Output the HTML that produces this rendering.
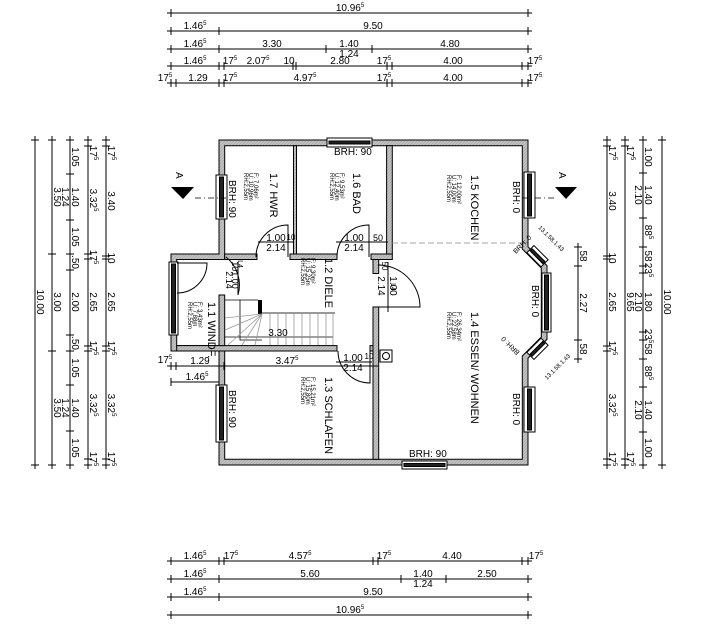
<!DOCTYPE html>
<html><head><meta charset="utf-8"><style>
html,body{margin:0;padding:0;background:#fff;}
svg{display:block;font-family:"Liberation Sans Narrow","Liberation Sans",sans-serif;}
.d line{stroke:#000;stroke-width:1;}
.t{font-size:10px;fill:#000;}
.s{font-size:6px;fill:#000;}
.r{font-size:10px;fill:#000;}
</style></head><body>
<svg width="719" height="627" viewBox="0 0 719 627" xmlns="http://www.w3.org/2000/svg">
<defs>
<pattern id="h" width="3" height="3" patternUnits="userSpaceOnUse"><rect width="3" height="3" fill="#c4c4c4"/><path d="M0 3L3 0" stroke="#9a9a9a" stroke-width="0.6"/></pattern>
</defs>
<rect width="719" height="627" fill="#fff"/>

<!-- ===== TOP DIMENSIONS ===== -->
<g class="d">
<line x1="167" y1="13" x2="532" y2="13"/>
<line x1="171" y1="9" x2="171" y2="17"/><line x1="528" y1="9" x2="528" y2="17"/>
<line x1="167" y1="31" x2="532" y2="31"/>
<line x1="171" y1="27" x2="171" y2="35"/><line x1="219" y1="27" x2="219" y2="35"/><line x1="528" y1="27" x2="528" y2="35"/>
<line x1="167" y1="49" x2="532" y2="49"/>
<line x1="171" y1="45" x2="171" y2="53"/><line x1="219" y1="45" x2="219" y2="53"/><line x1="326" y1="45" x2="326" y2="53"/><line x1="372" y1="45" x2="372" y2="53"/><line x1="528" y1="45" x2="528" y2="53"/>
<line x1="167" y1="66" x2="532" y2="66"/>
<line x1="171" y1="62" x2="171" y2="70"/><line x1="219" y1="62" x2="219" y2="70"/><line x1="224" y1="62" x2="224" y2="70"/><line x1="293" y1="62" x2="293" y2="70"/><line x1="296" y1="62" x2="296" y2="70"/><line x1="387" y1="62" x2="387" y2="70"/><line x1="392" y1="62" x2="392" y2="70"/><line x1="522" y1="62" x2="522" y2="70"/><line x1="528" y1="62" x2="528" y2="70"/>
<line x1="167" y1="83" x2="532" y2="83"/>
<line x1="171" y1="79" x2="171" y2="87"/><line x1="176" y1="79" x2="176" y2="87"/><line x1="219" y1="79" x2="219" y2="87"/><line x1="224" y1="79" x2="224" y2="87"/><line x1="387" y1="79" x2="387" y2="87"/><line x1="392" y1="79" x2="392" y2="87"/><line x1="522" y1="79" x2="522" y2="87"/><line x1="528" y1="79" x2="528" y2="87"/>
</g>
<g class="t" text-anchor="middle">
<text x="350" y="11">10.96<tspan font-size="6" dy="-4">5</tspan></text>
<text x="195" y="29">1.46<tspan font-size="6" dy="-4">5</tspan></text><text x="373" y="29">9.50</text>
<text x="195" y="47">1.46<tspan font-size="6" dy="-4">5</tspan></text><text x="272" y="47">3.30</text><text x="349" y="47">1.40</text><text x="349" y="57">1.24</text><text x="450" y="47">4.80</text>
<text x="195" y="64">1.46<tspan font-size="6" dy="-4">5</tspan></text><text x="230" y="64">17<tspan font-size="6" dy="-4">5</tspan></text><text x="258" y="64">2.07<tspan font-size="6" dy="-4">5</tspan></text><text x="289" y="64">10</text><text x="340" y="64">2.80</text><text x="384" y="64">17<tspan font-size="6" dy="-4">5</tspan></text><text x="453" y="64">4.00</text><text x="535" y="64">17<tspan font-size="6" dy="-4">5</tspan></text>
<text x="165" y="81">17<tspan font-size="6" dy="-4">5</tspan></text><text x="198" y="81">1.29</text><text x="230" y="81">17<tspan font-size="6" dy="-4">5</tspan></text><text x="305" y="81">4.97<tspan font-size="6" dy="-4">5</tspan></text><text x="384" y="81">17<tspan font-size="6" dy="-4">5</tspan></text><text x="453" y="81">4.00</text><text x="535" y="81">17<tspan font-size="6" dy="-4">5</tspan></text>
</g>

<!-- ===== BOTTOM DIMENSIONS ===== -->
<g class="d">
<line x1="167" y1="561" x2="532" y2="561"/>
<line x1="171" y1="557" x2="171" y2="565"/><line x1="219" y1="557" x2="219" y2="565"/><line x1="224" y1="557" x2="224" y2="565"/><line x1="373" y1="557" x2="373" y2="565"/><line x1="378" y1="557" x2="378" y2="565"/><line x1="522" y1="557" x2="522" y2="565"/><line x1="528" y1="557" x2="528" y2="565"/>
<line x1="167" y1="579" x2="532" y2="579"/>
<line x1="171" y1="575" x2="171" y2="583"/><line x1="219" y1="575" x2="219" y2="583"/><line x1="401" y1="575" x2="401" y2="583"/><line x1="446" y1="575" x2="446" y2="583"/><line x1="528" y1="575" x2="528" y2="583"/>
<line x1="167" y1="597" x2="532" y2="597"/>
<line x1="171" y1="593" x2="171" y2="601"/><line x1="219" y1="593" x2="219" y2="601"/><line x1="528" y1="593" x2="528" y2="601"/>
<line x1="167" y1="615" x2="532" y2="615"/>
<line x1="171" y1="611" x2="171" y2="619"/><line x1="528" y1="611" x2="528" y2="619"/>
</g>
<g class="t" text-anchor="middle">
<text x="195" y="559">1.46<tspan font-size="6" dy="-4">5</tspan></text><text x="231" y="559">17<tspan font-size="6" dy="-4">5</tspan></text><text x="300" y="559">4.57<tspan font-size="6" dy="-4">5</tspan></text><text x="384" y="559">17<tspan font-size="6" dy="-4">5</tspan></text><text x="452" y="559">4.40</text><text x="536" y="559">17<tspan font-size="6" dy="-4">5</tspan></text>
<text x="195" y="577">1.46<tspan font-size="6" dy="-4">5</tspan></text><text x="310" y="577">5.60</text><text x="423" y="577">1.40</text><text x="423" y="587">1.24</text><text x="487" y="577">2.50</text>
<text x="195" y="595">1.46<tspan font-size="6" dy="-4">5</tspan></text><text x="373" y="595">9.50</text>
<text x="350" y="613">10.96<tspan font-size="6" dy="-4">5</tspan></text>
</g>

<!-- ===== LEFT DIMENSIONS ===== -->
<g class="d">
<line x1="35" y1="136" x2="35" y2="469"/><line x1="31" y1="140" x2="39" y2="140"/><line x1="31" y1="465" x2="39" y2="465"/>
<line x1="52" y1="136" x2="52" y2="469"/><line x1="48" y1="140" x2="56" y2="140"/><line x1="48" y1="254" x2="56" y2="254"/><line x1="48" y1="351" x2="56" y2="351"/><line x1="48" y1="465" x2="56" y2="465"/>
<line x1="70" y1="136" x2="70" y2="469"/>
<line x1="66" y1="140" x2="74" y2="140"/><line x1="66" y1="174" x2="74" y2="174"/><line x1="66" y1="220" x2="74" y2="220"/><line x1="66" y1="254" x2="74" y2="254"/><line x1="66" y1="270" x2="74" y2="270"/><line x1="66" y1="335" x2="74" y2="335"/><line x1="66" y1="351" x2="74" y2="351"/><line x1="66" y1="385" x2="74" y2="385"/><line x1="66" y1="431" x2="74" y2="431"/><line x1="66" y1="465" x2="74" y2="465"/>
<line x1="88" y1="136" x2="88" y2="469"/>
<line x1="84" y1="140" x2="92" y2="140"/><line x1="84" y1="146" x2="92" y2="146"/><line x1="84" y1="254" x2="92" y2="254"/><line x1="84" y1="259" x2="92" y2="259"/><line x1="84" y1="346" x2="92" y2="346"/><line x1="84" y1="351" x2="92" y2="351"/><line x1="84" y1="459" x2="92" y2="459"/><line x1="84" y1="465" x2="92" y2="465"/>
<line x1="106" y1="136" x2="106" y2="469"/>
<line x1="102" y1="140" x2="110" y2="140"/><line x1="102" y1="146" x2="110" y2="146"/><line x1="102" y1="256" x2="110" y2="256"/><line x1="102" y1="259" x2="110" y2="259"/><line x1="102" y1="346" x2="110" y2="346"/><line x1="102" y1="351" x2="110" y2="351"/><line x1="102" y1="459" x2="110" y2="459"/><line x1="102" y1="465" x2="110" y2="465"/>
</g>
<g class="t" text-anchor="middle">
<text transform="translate(37,302) rotate(90)">10.00</text>
<text transform="translate(54,197) rotate(90)">3.50</text><text transform="translate(54,302) rotate(90)">3.00</text><text transform="translate(54,408) rotate(90)">3.50</text>
<text transform="translate(72,157) rotate(90)">1.05</text><text transform="translate(72,197) rotate(90)">1.40</text><text transform="translate(62,197) rotate(90)">1.24</text><text transform="translate(72,237) rotate(90)">1.05</text><text transform="translate(72,262) rotate(90)">.50</text><text transform="translate(72,302) rotate(90)">2.00</text><text transform="translate(72,343) rotate(90)">.50</text><text transform="translate(72,368) rotate(90)">1.05</text><text transform="translate(72,408) rotate(90)">1.40</text><text transform="translate(62,408) rotate(90)">1.24</text><text transform="translate(72,448) rotate(90)">1.05</text>
<text transform="translate(90,153) rotate(90)">17<tspan font-size="6" dy="-4">5</tspan></text><text transform="translate(90,200) rotate(90)">3.32<tspan font-size="6" dy="-4">5</tspan></text><text transform="translate(90,257) rotate(90)">17<tspan font-size="6" dy="-4">5</tspan></text><text transform="translate(90,302) rotate(90)">2.65</text><text transform="translate(90,348) rotate(90)">17<tspan font-size="6" dy="-4">5</tspan></text><text transform="translate(90,405) rotate(90)">3.32<tspan font-size="6" dy="-4">5</tspan></text><text transform="translate(90,459) rotate(90)">17<tspan font-size="6" dy="-4">5</tspan></text>
<text transform="translate(108,153) rotate(90)">17<tspan font-size="6" dy="-4">5</tspan></text><text transform="translate(108,201) rotate(90)">3.40</text><text transform="translate(108,258) rotate(90)">10</text><text transform="translate(108,302) rotate(90)">2.65</text><text transform="translate(108,348) rotate(90)">17<tspan font-size="6" dy="-4">5</tspan></text><text transform="translate(108,405) rotate(90)">3.32<tspan font-size="6" dy="-4">5</tspan></text><text transform="translate(108,459) rotate(90)">17<tspan font-size="6" dy="-4">5</tspan></text>
</g>

<!-- ===== RIGHT DIMENSIONS ===== -->
<g class="d">
<line x1="578" y1="243" x2="578" y2="363"/><line x1="574" y1="247" x2="582" y2="247"/><line x1="574" y1="266" x2="582" y2="266"/><line x1="574" y1="340" x2="582" y2="340"/><line x1="574" y1="359" x2="582" y2="359"/>
<line x1="607" y1="136" x2="607" y2="469"/>
<line x1="603" y1="140" x2="611" y2="140"/><line x1="603" y1="146" x2="611" y2="146"/><line x1="603" y1="256" x2="611" y2="256"/><line x1="603" y1="259" x2="611" y2="259"/><line x1="603" y1="346" x2="611" y2="346"/><line x1="603" y1="351" x2="611" y2="351"/><line x1="603" y1="459" x2="611" y2="459"/><line x1="603" y1="465" x2="611" y2="465"/>
<line x1="625" y1="136" x2="625" y2="469"/>
<line x1="621" y1="140" x2="629" y2="140"/><line x1="621" y1="146" x2="629" y2="146"/><line x1="621" y1="459" x2="629" y2="459"/><line x1="621" y1="465" x2="629" y2="465"/>
<line x1="643" y1="136" x2="643" y2="469"/>
<line x1="639" y1="140" x2="647" y2="140"/><line x1="639" y1="173" x2="647" y2="173"/><line x1="639" y1="218" x2="647" y2="218"/><line x1="639" y1="247" x2="647" y2="247"/><line x1="639" y1="266" x2="647" y2="266"/><line x1="639" y1="273" x2="647" y2="273"/><line x1="639" y1="332" x2="647" y2="332"/><line x1="639" y1="340" x2="647" y2="340"/><line x1="639" y1="359" x2="647" y2="359"/><line x1="639" y1="387" x2="647" y2="387"/><line x1="639" y1="432" x2="647" y2="432"/><line x1="639" y1="465" x2="647" y2="465"/>
<line x1="662" y1="136" x2="662" y2="469"/><line x1="658" y1="140" x2="666" y2="140"/><line x1="658" y1="465" x2="666" y2="465"/>
</g>
<g class="t" text-anchor="middle">
<text transform="translate(580,256) rotate(90)">58</text><text transform="translate(580,303) rotate(90)">2.27</text><text transform="translate(580,349) rotate(90)">58</text>
<text transform="translate(609,153) rotate(90)">17<tspan font-size="6" dy="-4">5</tspan></text><text transform="translate(609,201) rotate(90)">3.40</text><text transform="translate(609,258) rotate(90)">10</text><text transform="translate(609,302) rotate(90)">2.65</text><text transform="translate(609,348) rotate(90)">17<tspan font-size="6" dy="-4">5</tspan></text><text transform="translate(609,405) rotate(90)">3.32<tspan font-size="6" dy="-4">5</tspan></text><text transform="translate(609,459) rotate(90)">17<tspan font-size="6" dy="-4">5</tspan></text>
<text transform="translate(627,153) rotate(90)">17<tspan font-size="6" dy="-4">5</tspan></text><text transform="translate(627,302) rotate(90)">9.65</text><text transform="translate(627,459) rotate(90)">17<tspan font-size="6" dy="-4">5</tspan></text>
<text transform="translate(645,157) rotate(90)">1.00</text><text transform="translate(645,195) rotate(90)">1.40</text><text transform="translate(635,195) rotate(90)">2.10</text><text transform="translate(645,232) rotate(90)">88<tspan font-size="6" dy="-4">5</tspan></text><text transform="translate(645,256) rotate(90)">58</text><text transform="translate(645,270) rotate(90)">23<tspan font-size="6" dy="-4">5</tspan></text><text transform="translate(645,302) rotate(90)">1.80</text><text transform="translate(635,302) rotate(90)">2.10</text><text transform="translate(645,336) rotate(90)">23<tspan font-size="6" dy="-4">5</tspan></text><text transform="translate(645,349) rotate(90)">58</text><text transform="translate(645,373) rotate(90)">88<tspan font-size="6" dy="-4">5</tspan></text><text transform="translate(645,410) rotate(90)">1.40</text><text transform="translate(635,410) rotate(90)">2.10</text><text transform="translate(645,448) rotate(90)">1.00</text>
<text transform="translate(664,302) rotate(90)">10.00</text>
</g>

<!-- ===== WALLS ===== -->
<path fill="url(#h)" fill-rule="evenodd" stroke="#000" stroke-width="1"
 d="M219 140H528V246.8L547 265.6V339.4L528 358.2V465H219V351H171V254H219Z
    M224.7 145.7V259.5H176.7V345.6H224.7V459.3H522.3V356L541.3 337V268L522.3 249V145.7Z"/>
<g fill="url(#h)" stroke="#000" stroke-width="1">
<rect x="293.5" y="145.7" width="3" height="108.3"/>
<rect x="386.6" y="145.7" width="5.7" height="108.3"/>
<!-- horizontal HWR/BAD - Diele with door gaps -->
<rect x="224.7" y="254" width="32.3" height="5.5"/>
<rect x="290" y="254" width="47" height="5.5"/>
<rect x="371" y="254" width="21.3" height="5.5"/>
<!-- diele right wall -->
<rect x="373" y="259.5" width="5.7" height="14"/>
<rect x="373" y="307" width="5.7" height="152.3"/>
<!-- diele / schlafen -->
<rect x="176.7" y="345.6" width="160.3" height="5.4"/>
<rect x="370" y="345.6" width="3" height="5.4"/>
<!-- windfang / diele partial wall -->
<rect x="219" y="295" width="5.7" height="50.6"/>
</g>

<!-- ===== WINDOWS ===== -->
<g stroke="#000" stroke-width="1">
<rect x="327" y="138" width="45" height="9" fill="#fff"/><rect x="329" y="141" width="41" height="3" fill="#222"/>
<rect x="402" y="461" width="45" height="8" fill="#fff"/><rect x="404" y="463.5" width="41" height="3" fill="#222"/>
<rect x="216" y="175" width="11" height="44" fill="#fff"/><rect x="219.5" y="177" width="4" height="40" fill="#222"/>
<rect x="216" y="385" width="11" height="57" fill="#fff"/><rect x="219.5" y="387" width="4" height="53" fill="#222"/>
<rect x="169" y="262" width="9" height="73" fill="#fff"/><rect x="171.5" y="264" width="4" height="69" fill="#222"/>
<rect x="524" y="172" width="11" height="46" fill="#fff"/><rect x="527.5" y="174" width="4" height="42" fill="#222"/>
<rect x="542" y="273" width="9" height="59" fill="#fff"/><rect x="544.5" y="275" width="4" height="55" fill="#222"/>
<rect x="524" y="387" width="11" height="45" fill="#fff"/><rect x="527.5" y="389" width="4" height="41" fill="#222"/>
<g transform="translate(537.5,256.2) rotate(45)"><rect x="-10" y="-5" width="20" height="10" fill="#fff"/><rect x="-9" y="-1.5" width="18" height="3" fill="#222"/></g>
<g transform="translate(537.5,348.8) rotate(-45)"><rect x="-10" y="-5" width="20" height="10" fill="#fff"/><rect x="-9" y="-1.5" width="18" height="3" fill="#222"/></g>
</g>

<!-- ===== DOORS ===== -->
<g fill="none" stroke="#000" stroke-width="1">
<path d="M288 257V225A32 32 0 0 0 256 257"/>
<path d="M369 257V225A32 32 0 0 0 337 257"/>
<path d="M370 351V383A32 32 0 0 1 338 351"/>
<path d="M378 307H420A42 42 0 0 0 378 265"/>
<path d="M238 295V262M226 257A36 36 0 0 1 238 295"/>
<path d="M177 263H207A30 30 0 0 1 177 293"/>
<!-- door dim lines -->
<line x1="258" y1="242" x2="294" y2="242"/><line x1="336" y1="242" x2="388" y2="242"/>
<line x1="336" y1="362" x2="372" y2="362"/>
<line x1="388" y1="262" x2="388" y2="312"/>
<!-- column -->
<rect x="380" y="350" width="12" height="12" fill="#fff"/>
<circle cx="386" cy="356" r="3.5"/>
</g>
<g class="s" font-size="9" text-anchor="middle">
<text x="276" y="241" font-size="10">1.00</text><text x="276" y="251" font-size="10">2.14</text><text x="291" y="240" font-size="8">10</text>
<text x="354" y="241" font-size="10">1.00</text><text x="354" y="251" font-size="10">2.14</text><text x="378" y="241" font-size="9">50</text>
<text x="353" y="361" font-size="10">1.00</text><text x="353" y="371" font-size="10">2.14</text><text x="369" y="359" font-size="8">10</text>
<text transform="translate(382,266) rotate(90)" font-size="8">50</text>
<text transform="translate(390,286) rotate(90)" font-size="10">1.00</text>
<text transform="translate(378,286) rotate(90)" font-size="10">2.14</text>
<text transform="translate(391,287) rotate(90)" font-size="7">L4</text>
<text transform="translate(238,264) rotate(90)" font-size="7">L4</text>
<text transform="translate(232,275) rotate(90)" font-size="9">101.00</text>
<text transform="translate(226,280) rotate(90)" font-size="9">2.14</text>
</g>

<!-- ===== STAIRS ===== -->
<g fill="none" stroke="#000" stroke-width="0.8">
<polyline points="225,300 258,300"/>
<polyline points="240,300 240,340 262,340"/>
<line x1="225" y1="337" x2="333" y2="337"/>
</g>
<rect x="258" y="300" width="4" height="14" fill="#000"/>
<g stroke="#999" stroke-width="0.8">
<line x1="262" y1="313" x2="335" y2="313" stroke-width="2"/>
<line x1="270" y1="313" x2="270" y2="345"/><line x1="278" y1="313" x2="278" y2="345"/><line x1="286" y1="313" x2="286" y2="345"/><line x1="294" y1="313" x2="294" y2="345"/><line x1="302" y1="313" x2="302" y2="345"/><line x1="310" y1="313" x2="310" y2="345"/><line x1="318" y1="313" x2="318" y2="345"/><line x1="326" y1="313" x2="326" y2="345"/><line x1="333" y1="313" x2="333" y2="345"/>
<line x1="262" y1="314" x2="225" y2="318"/><line x1="262" y1="314" x2="225" y2="330"/><line x1="262" y1="314" x2="228" y2="345"/><line x1="262" y1="314" x2="242" y2="345"/><line x1="262" y1="314" x2="255" y2="345"/>
</g>
<text x="278" y="336" class="t" font-size="9" text-anchor="middle">3.30</text>

<!-- dashed kitchen line -->
<line x1="392" y1="243" x2="522" y2="243" stroke="#888" stroke-width="0.8" stroke-dasharray="6,3"/>

<!-- ===== SECTION MARKERS ===== -->
<g>
<polygon points="171,187 194,187 183,199" fill="#000"/>
<line x1="195" y1="198" x2="226" y2="198" stroke="#000" stroke-width="0.8" stroke-dasharray="6,3,1,3"/>
<text transform="translate(176,172) rotate(90)" class="t" font-size="12">A</text>
<polygon points="555,187 577,187 566,199" fill="#000"/>
<line x1="522" y1="198" x2="556" y2="198" stroke="#000" stroke-width="0.8" stroke-dasharray="6,3,1,3"/>
<text transform="translate(559,172) rotate(90)" class="t" font-size="12">A</text>
</g>

<!-- ===== BRH LABELS ===== -->
<g class="t" font-size="8">
<text x="334" y="155">BRH: 90</text>
<text x="409" y="457">BRH: 90</text>
<text transform="translate(229,180) rotate(90)">BRH: 90</text>
<text transform="translate(229,390) rotate(90)">BRH: 90</text>
<text transform="translate(513,181) rotate(90)">BRH: 0</text>
<text transform="translate(532,285) rotate(90)">BRH: 0</text>
<text transform="translate(513,393) rotate(90)">BRH: 0</text>
<text transform="translate(516,254) rotate(-45)" font-size="7">BRH: 0</text>
<text transform="translate(520,352) rotate(-135)" font-size="7">BRH: 0</text>
<text transform="translate(538,228) rotate(45)" font-size="6">13.1.58.1.43</text>
<text transform="translate(547,380) rotate(-45)" font-size="6">13.1.58.1.43</text>
</g>

<!-- ===== ROOM LABELS ===== -->
<g class="r">
<text transform="translate(270,173) rotate(90)" font-size="11">1.7 HWR</text>
<text transform="translate(254,173) rotate(90)" class="s">F: 7,06m²</text>
<text transform="translate(249,173) rotate(90)" class="s">U: 10,96m</text>
<text transform="translate(244,173) rotate(90)" class="s">RH:2,55m</text>

<text transform="translate(353,173) rotate(90)" font-size="11">1.6 BAD</text>
<text transform="translate(340,173) rotate(90)" class="s">F: 9,53m²</text>
<text transform="translate(335,173) rotate(90)" class="s">U: 12,40m</text>
<text transform="translate(330,173) rotate(90)" class="s">RH:2,55m</text>

<text transform="translate(471,175) rotate(90)" font-size="11">1.5 KOCHEN</text>
<text transform="translate(457,175) rotate(90)" class="s">F: 12,00m²</text>
<text transform="translate(452,175) rotate(90)" class="s">U: 14,00m</text>
<text transform="translate(447,175) rotate(90)" class="s">RH:2,55m</text>

<text transform="translate(325,258) rotate(90)" font-size="11">1.2 DIELE</text>
<text transform="translate(311,258) rotate(90)" class="s">F: 9,30m²</text>
<text transform="translate(306,258) rotate(90)" class="s">U: 15,25m</text>
<text transform="translate(301,258) rotate(90)" class="s">RH:2,55m</text>

<text transform="translate(471,312) rotate(90)" font-size="11">1.4 ESSEN/ WOHNEN</text>
<text transform="translate(457,312) rotate(90)" class="s">F: 26,34m²</text>
<text transform="translate(452,312) rotate(90)" class="s">U: 22,58m</text>
<text transform="translate(447,312) rotate(90)" class="s">RH:2,55m</text>

<text transform="translate(325,377) rotate(90)" font-size="11">1.3 SCHLAFEN</text>
<text transform="translate(311,377) rotate(90)" class="s">F: 15,21m²</text>
<text transform="translate(306,377) rotate(90)" class="s">U: 15,80m</text>
<text transform="translate(301,377) rotate(90)" class="s">RH:2,55m</text>

<text transform="translate(208,302) rotate(90)" font-size="11">1.1 WINDF.</text>
<text transform="translate(198,302) rotate(90)" class="s">F: 3,43m²</text>
<text transform="translate(193,302) rotate(90)" class="s">U: 7,88m</text>
<text transform="translate(188,302) rotate(90)" class="s">RH:2,55m</text>
</g>

<!-- inner dims under windfang -->
<g class="d">
<line x1="167" y1="366" x2="378" y2="366"/>
<line x1="171" y1="362" x2="171" y2="370"/><line x1="176" y1="362" x2="176" y2="370"/><line x1="219" y1="362" x2="219" y2="370"/><line x1="224" y1="362" x2="224" y2="370"/><line x1="373" y1="362" x2="373" y2="370"/>
<line x1="171" y1="382" x2="219" y2="382"/>
<line x1="171" y1="378" x2="171" y2="386"/><line x1="219" y1="378" x2="219" y2="386"/>
</g>
<g class="t" text-anchor="middle">
<text x="165" y="363">17<tspan font-size="6" dy="-4">5</tspan></text>
<text x="200" y="364">1.29</text>
<text x="287" y="364">3.47<tspan font-size="6" dy="-4">5</tspan></text>
<text x="197" y="380">1.46<tspan font-size="6" dy="-4">5</tspan></text>
</g>
</svg>
</body></html>
